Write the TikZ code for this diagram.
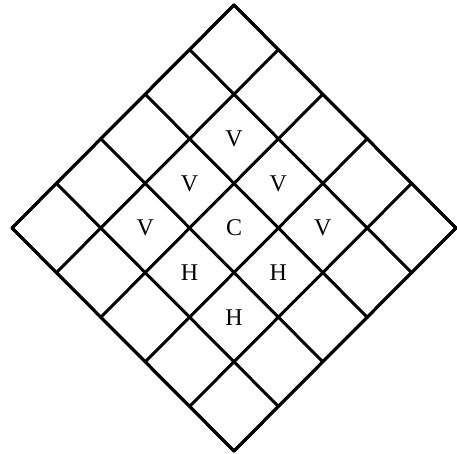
\documentclass[tikz,border=0pt]{standalone}
\usepackage{fontspec}
\setmainfont{Liberation Serif}
\usetikzlibrary{calc}
\begin{document}
\begin{tikzpicture}[x=1pt,y=-1pt,
  gridline/.style={line width=3pt,black},
  lbl/.style={font=\fontsize{24}{24}\selectfont,inner sep=0pt,anchor=center}]
\useasboundingbox (0,0) rectangle (457,454);
\coordinate (T) at (234,5);
\coordinate (R) at (456,228);
\coordinate (L) at (12,228);
\coordinate (B) at (234,451);
\foreach \i in {0,...,5}{
  \draw[gridline,line cap=round] ($(T)!\i/5!(R)$) -- ($(L)!\i/5!(B)$);
  \draw[gridline,line cap=round] ($(T)!\i/5!(L)$) -- ($(R)!\i/5!(B)$);
}
\draw[gridline,line join=round] (T) -- (R) -- (B) -- (L) -- cycle;
\node[lbl] (v1) at ($(T)+(0,133.8)$) {V};
\node[lbl] (v2) at ($(T)+(-44.4,178.4)$) {V};
\node[lbl] (v3) at ($(T)+(44.4,178.4)$) {V};
\node[lbl] (v4) at ($(T)+(-88.8,223)$) {V};
\node[lbl] (c)  at ($(T)+(0,223)$) {C};
\node[lbl] (v5) at ($(T)+(88.8,223)$) {V};
\node[lbl] (h1) at ($(T)+(-44.4,267.6)$) {H};
\node[lbl] (h2) at ($(T)+(44.4,267.6)$) {H};
\node[lbl] (h3) at ($(T)+(0,312.2)$) {H};
\end{tikzpicture}
\end{document}
